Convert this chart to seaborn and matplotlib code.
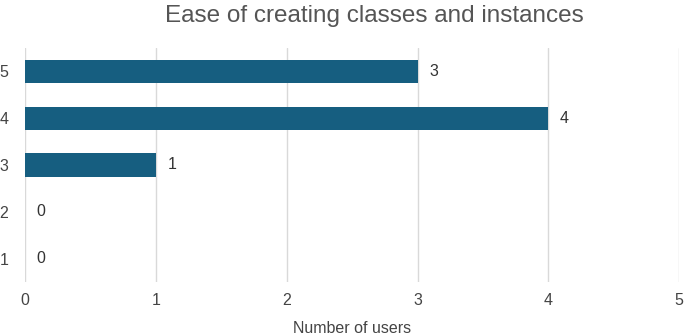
import seaborn as sns
import matplotlib.pyplot as plt
import pandas as pd

ratings = ['5', '4', '3', '2', '1']
users = [3, 4, 1, 0, 0]

df = pd.DataFrame({'rating': ratings, 'users': users})

sns.set_style('white')
plt.rcParams['font.family'] = ['Liberation Sans', 'DejaVu Sans']

fig = plt.figure(figsize=(6.85, 3.36), dpi=100)
ax = fig.add_axes([0.0365, 0.161, 0.955, 0.696])

sns.barplot(data=df, x='users', y='rating', orient='h', color='#165e80',
            saturation=1, width=0.5, linewidth=0, ax=ax)

ax.set_xlim(0, 5)
ax.set_xticks(range(6))
ax.grid(axis='x', color='#d9d9d9', linewidth=1)
ax.set_axisbelow(True)
for s in ax.spines.values():
    s.set_visible(False)
ax.tick_params(axis='both', length=0, labelsize=11.5, colors='#444444')
ax.tick_params(axis='x', pad=8)
ax.tick_params(axis='y', pad=12)

for i, v in enumerate(users):
    ax.text(v + 0.09, i, str(v), va='center', ha='left', fontsize=11.5, color='#333333')

ax.set_xlabel('Number of users', fontsize=11.5, color='#444444', labelpad=9)
ax.set_ylabel('')
fig.text(0.546, 0.952, 'Ease of creating classes and instances', ha='center', va='center',
         fontsize=17.5, color='#555555')

fig.savefig('out.png', dpi=100)
